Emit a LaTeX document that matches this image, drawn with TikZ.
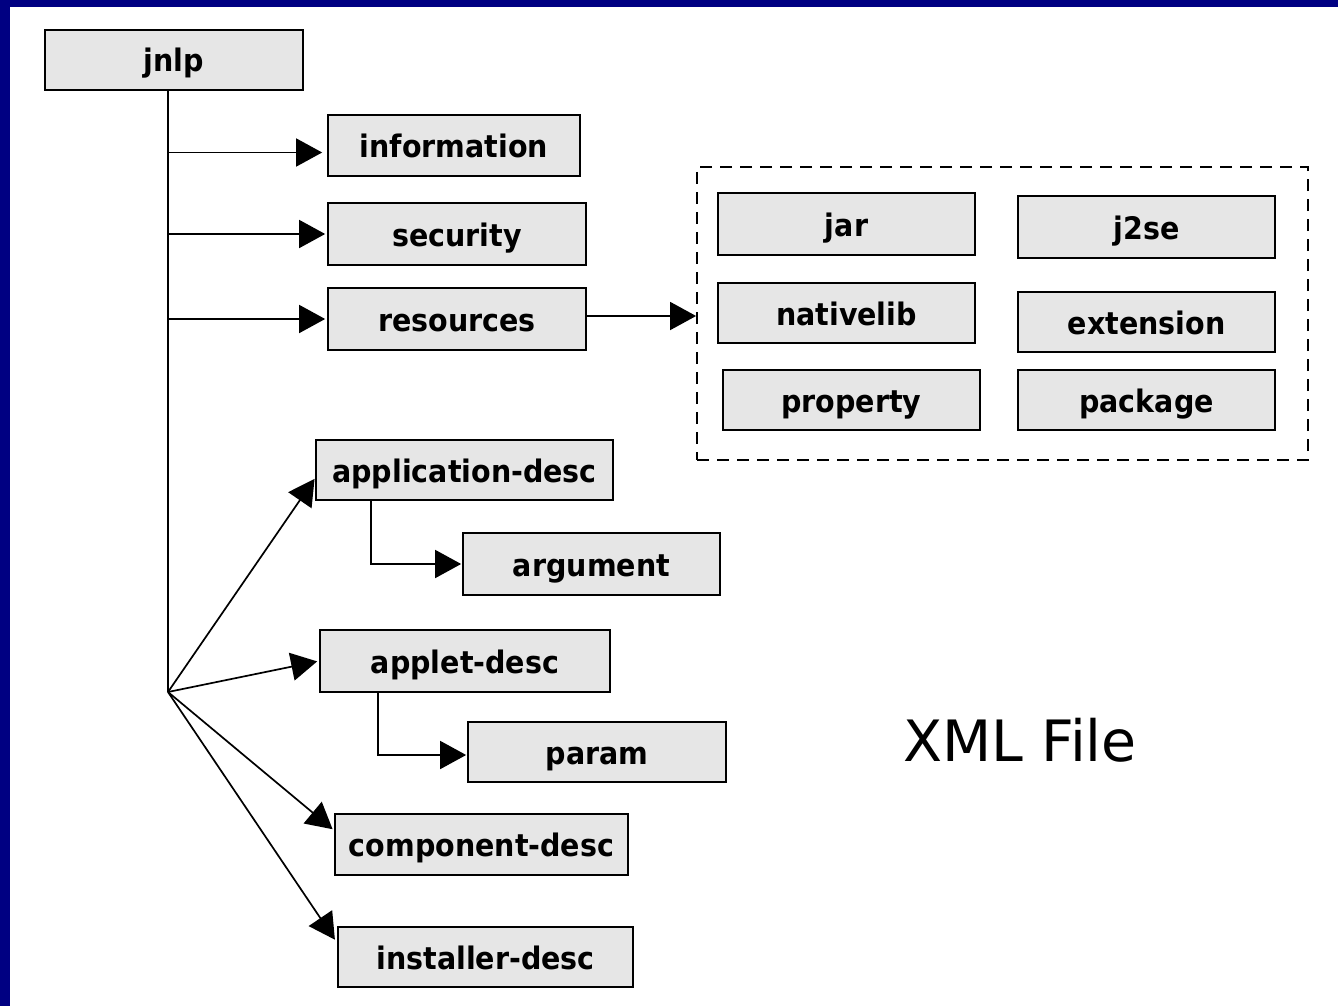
\documentclass[tikz,border=0pt]{standalone}
\usepackage{fontspec}
\setmainfont{DejaVu Sans}
\newfontfamily\boxfont{DejaVu Sans}[FakeStretch=0.92]
\usetikzlibrary{arrows.meta}
\definecolor{navyband}{RGB}{0,0,130}
\definecolor{boxgray}{RGB}{230,230,230}
\begin{document}
\begin{tikzpicture}[x=1pt,y=-1pt,
  box/.style={draw=black, line width=1.7pt, fill=boxgray, inner sep=0pt,
    text height=24pt, text depth=0pt,
    font=\boxfont\fontsize{31}{34}\selectfont\bfseries},
  arr/.style={line width=1.7pt, -{Triangle[length=26pt,width=28pt]}},
  line/.style={line width=1.7pt}]
\useasboundingbox (0,0) rectangle (1338,1006);
\fill[white] (0,0) rectangle (1338,1006);
\fill[navyband] (0,0) rectangle (10,1006);
\fill[navyband] (0,0) rectangle (1338,7);

% dashed group
\node[draw=black, line width=1.8pt, dash pattern=on 12pt off 8pt, minimum width=611pt, minimum height=293pt, inner sep=0pt] (grp) at (1002.5,313.5) {};

% boxes
\node[box, minimum width=258pt, minimum height=60pt] (jnlp) at (174,60) {jnlp};
\node[box, minimum width=252pt, minimum height=61pt] (info) at (454,145.5) {information};
\node[box, minimum width=258pt, minimum height=62pt] (sec) at (457,234) {security};
\node[box, minimum width=258pt, minimum height=62pt] (res) at (457,319) {resources};
\node[box, minimum width=297pt, minimum height=60pt] (app) at (464.5,470) {application-desc};
\node[box, minimum width=257pt, minimum height=62pt] (arg) at (591.5,564) {argument};
\node[box, minimum width=290pt, minimum height=62pt] (applet) at (465,661) {applet-desc};
\node[box, minimum width=258pt, minimum height=60pt] (param) at (597,752) {param};
\node[box, minimum width=293pt, minimum height=61pt] (comp) at (481.5,844.5) {component-desc};
\node[box, minimum width=295pt, minimum height=60pt] (inst) at (485.5,957) {installer-desc};

\node[box, minimum width=257pt, minimum height=62pt] (jar) at (846.5,224) {jar};
\node[box, minimum width=257pt, minimum height=62pt] (j2se) at (1146.5,227) {j2se};
\node[box, minimum width=257pt, minimum height=60pt] (native) at (846.5,313) {nativelib};
\node[box, minimum width=257pt, minimum height=60pt] (ext) at (1146.5,322) {extension};
\node[box, minimum width=257pt, minimum height=60pt] (prop) at (851.5,400) {property};
\node[box, minimum width=257pt, minimum height=60pt] (pkg) at (1146.5,400) {package};

\node[font=\fontsize{57}{60}\selectfont] (xml) at (1020,740) {XML File};

% trunk
\coordinate (fan) at (168,692);
\coordinate (infoin) at ([yshift=-7pt]info.west);
\coordinate (resout) at ([yshift=3pt]res.east);
\draw[line] (jnlp.south -| fan) -- (fan);

% horizontal arrows
\draw[arr, shorten >=5pt] (fan |- infoin) -- (infoin);
\draw[arr, shorten >=2pt] (fan |- sec.west) -- (sec.west);
\draw[arr, shorten >=2pt] (fan |- res.west) -- (res.west);
\draw[arr] (resout) -- (resout -| grp.west);

% fan arrows
\draw[arr, shorten >=1pt] (fan) -- ([yshift=-8pt]app.west);
\draw[arr, shorten >=2pt] (fan) -- (applet.west);
\draw[arr, shorten >=2pt] (fan) -- ([yshift=14pt]comp.west);
\draw[arr, shorten >=4pt] (fan) -- ([yshift=14pt]inst.west);

% sub arrows
\draw[arr, shorten >=1pt] ([xshift=-93.5pt]app.south) |- (arg.west);
\draw[arr, shorten >=1pt] ([xshift=-87pt]applet.south) |- ([yshift=-3pt]param.west);
\end{tikzpicture}
\end{document}
